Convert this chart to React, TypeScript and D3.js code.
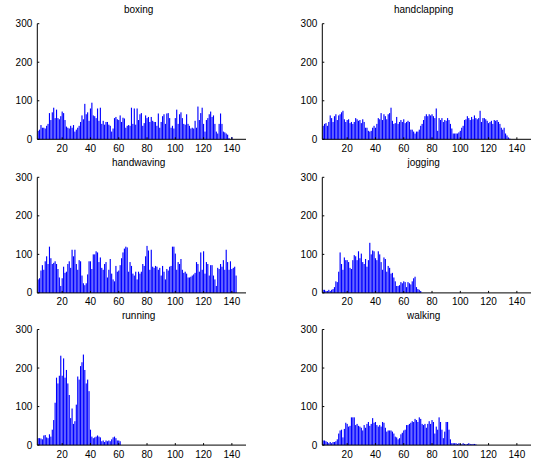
import React, { useEffect, useRef } from 'react';
import * as d3 from 'd3';

// first bar sits at x = 3, one bar per integer step
const FIRST_X = 3;

const boxing = [
  22, 25, 37, 30, 30, 28, 35, 40, 68, 50, 70, 82, 55, 77, 55, 52, 60, 72, 68, 50,
  33, 30, 28, 35, 30, 37, 20, 25, 30, 35, 45, 62, 52, 92, 65, 70, 48, 80, 95, 62,
  60, 55, 80, 48, 82, 40, 48, 38, 45, 45, 38, 35, 20, 28, 55, 58, 52, 50, 62, 45,
  56, 54, 30, 35, 37, 35, 82, 40, 80, 38, 80, 50, 65, 68, 35, 42, 62, 55, 58, 45,
  58, 48, 45, 45, 35, 67, 30, 45, 60, 65, 40, 67, 68, 55, 30, 35, 28, 55, 77, 40,
  65, 70, 55, 40, 38, 65, 40, 35, 28, 30, 28, 48, 30, 85, 50, 68, 82, 40, 20, 50,
  55, 65, 72, 58, 62, 40, 20, 15, 40, 67, 40, 20, 18, 15, 12, 3, 0, 6,
];

const handclapping = [
  35, 40, 42, 35, 45, 62, 55, 45, 60, 65, 50, 62, 65, 70, 74, 52, 45, 50, 52, 42,
  45, 40, 45, 55, 52, 48, 50, 42, 52, 45, 30, 30, 22, 20, 22, 30, 35, 30, 40, 55,
  52, 68, 50, 65, 60, 52, 65, 68, 82, 48, 40, 42, 58, 40, 45, 50, 45, 52, 42, 45,
  48, 45, 25, 25, 20, 15, 20, 20, 25, 35, 40, 50, 60, 65, 60, 65, 62, 65, 60, 55,
  80, 22, 55, 50, 55, 45, 50, 48, 55, 50, 40, 28, 15, 15, 15, 15, 18, 22, 30, 35,
  50, 52, 60, 55, 50, 58, 52, 62, 55, 52, 55, 74, 45, 55, 55, 52, 48, 42, 45, 48,
  40, 50, 48, 50, 45, 40, 30, 25, 30, 15, 10, 5, 2,
];

const handwaving = [
  35, 38, 58, 72, 60, 82, 95, 75, 120, 90, 75, 78, 82, 75, 62, 40, 18, 38, 68, 52,
  55, 75, 82, 65, 112, 95, 112, 75, 60, 85, 82, 45, 25, 20, 25, 48, 82, 82, 62, 100,
  100, 108, 105, 80, 92, 65, 60, 75, 80, 40, 60, 88, 50, 35, 30, 70, 55, 58, 72, 90,
  105, 115, 120, 118, 55, 80, 70, 50, 45, 55, 35, 55, 50, 55, 75, 70, 95, 122, 110, 60,
  112, 68, 65, 70, 68, 60, 65, 45, 70, 55, 35, 62, 58, 68, 70, 120, 120, 102, 60, 80,
  75, 88, 60, 52, 55, 50, 40, 40, 42, 45, 48, 52, 80, 75, 55, 105, 60, 108, 50, 80,
  75, 45, 72, 72, 45, 35, 18, 65, 62, 75, 68, 85, 60, 112, 80, 60, 82, 62, 65, 68,
  45,
];

const jogging = [
  8, 8, 5, 5, 8, 5, 8, 10, 15, 30, 28, 55, 105, 75, 60, 92, 85, 85, 80, 65,
  62, 85, 98, 95, 85, 108, 90, 102, 80, 75, 88, 68, 85, 130, 100, 110, 108, 90, 85, 108,
  100, 80, 60, 92, 88, 55, 70, 65, 50, 52, 40, 30, 18, 18, 20, 28, 25, 30, 28, 15,
  28, 25, 22, 30, 38, 42, 15, 10, 8, 5,
];

const running = [
  18, 18, 17, 15, 25, 26, 20, 18, 28, 22, 40, 65, 110, 175, 160, 180, 232, 180, 225, 175,
  195, 160, 130, 70, 95, 55, 62, 105, 178, 170, 205, 215, 235, 195, 160, 170, 140, 40, 22, 18,
  20, 22, 25, 22, 20, 10, 12, 8, 12, 10, 12, 10, 15, 20, 22, 18, 12, 12, 10,
];

const walking = [
  12, 12, 10, 8, 5, 8, 5, 8, 8, 10, 15, 30, 38, 40, 20, 42, 58, 55, 48, 50,
  72, 72, 72, 52, 55, 50, 48, 45, 38, 52, 45, 55, 60, 50, 55, 70, 58, 60, 52, 48,
  52, 48, 60, 58, 45, 35, 38, 38, 38, 35, 30, 22, 20, 15, 18, 28, 32, 38, 40, 52,
  52, 55, 58, 62, 60, 68, 65, 60, 72, 68, 55, 52, 55, 45, 55, 62, 55, 65, 60, 30,
  48, 40, 72, 60, 40, 18, 35, 60, 60, 40, 15, 5, 5, 5, 5, 3, 5, 3, 2, 5,
  3, 2, 3, 5, 3, 2, 3, 3, 2,
];

const titles = ['boxing', 'handclapping', 'handwaving', 'jogging', 'running', 'walking'];
const series = [boxing, handclapping, handwaving, jogging, running, walking];
const xTicks = [20, 40, 60, 80, 100, 120, 140];
const yTicks = [0, 100, 200, 300];

const W = 536;
const H = 461;

const App = () => {
  const ref = useRef<SVGSVGElement>(null);

  useEffect(() => {
    const svg = d3.select(ref.current);
    svg.selectAll('*').remove();

    const colLeft = [37.3, 322.3];
    const rowTop = [23.7, 177.3, 329.5];
    const pw = 208.7;
    const ph = 115.6;

    series.forEach((vals, k) => {
      const col = k % 2;
      const row = Math.floor(k / 2);
      const left = colLeft[col];
      const top = rowTop[row];

      const x = d3.scaleLinear().domain([2.4, 150]).range([left, left + pw]);
      const y = d3.scaleLinear().domain([0, 300]).range([top + ph, top]);
      const bw = x(0.8) - x(0);

      const g = svg.append('g');

      g.selectAll('rect')
        .data(vals)
        .enter()
        .append('rect')
        .attr('x', (d, i) => x(FIRST_X + i) - bw / 2)
        .attr('width', bw)
        .attr('y', (d) => y(d))
        .attr('height', (d) => y(0) - y(d))
        .attr('fill', '#0000ff');

      // axes lines
      g.append('line')
        .attr('x1', left).attr('x2', left)
        .attr('y1', top).attr('y2', top + ph)
        .attr('stroke', '#000');
      g.append('line')
        .attr('x1', left).attr('x2', left + pw)
        .attr('y1', top + ph).attr('y2', top + ph)
        .attr('stroke', '#000');

      // inward ticks
      xTicks.forEach((t) => {
        g.append('line')
          .attr('x1', x(t)).attr('x2', x(t))
          .attr('y1', top + ph).attr('y2', top + ph - 2)
          .attr('stroke', '#000');
        g.append('text')
          .attr('x', x(t))
          .attr('y', top + ph + 12.5)
          .attr('text-anchor', 'middle')
          .text(t);
      });
      yTicks.forEach((t) => {
        g.append('line')
          .attr('x1', left).attr('x2', left + 2)
          .attr('y1', y(t)).attr('y2', y(t))
          .attr('stroke', '#000');
        g.append('text')
          .attr('x', left - 5)
          .attr('y', y(t))
          .attr('dy', '0.35em')
          .attr('text-anchor', 'end')
          .text(t);
      });

      g.append('text')
        .attr('x', left + pw / 2 - 3)
        .attr('y', top - 11)
        .attr('text-anchor', 'middle')
        .text(titles[k]);
    });

    svg.selectAll('text')
      .attr('font-family', 'Liberation Sans, Arial, sans-serif')
      .attr('font-size', 10)
      .attr('fill', '#000');
  }, []);

  return (
    <svg
      ref={ref}
      width={W}
      height={H}
      style={{ position: 'absolute', left: 0, top: 0, background: '#fff' }}
    ></svg>
  );
};

export default App;
